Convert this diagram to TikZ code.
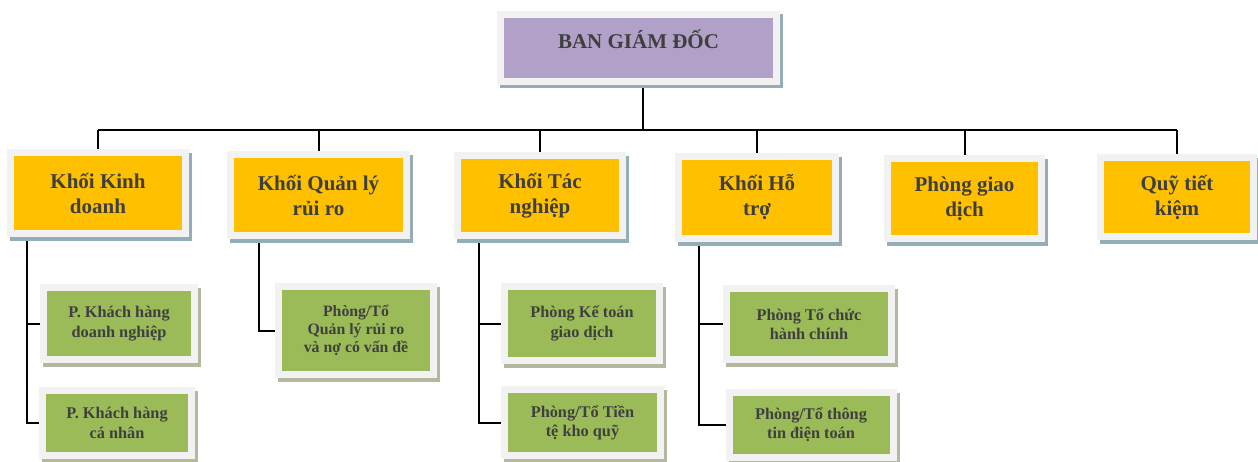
\documentclass[tikz,border=0pt]{standalone}
\usepackage{fontspec}
\setmainfont{Liberation Serif}
\usetikzlibrary{backgrounds}
\definecolor{frameg}{HTML}{F2F2F2}
\definecolor{purp}{HTML}{B1A0C7}
\definecolor{yel}{HTML}{FFC000}
\definecolor{grn}{HTML}{9BBB59}
\definecolor{shadb}{HTML}{93AEB7}
\definecolor{shadg}{HTML}{B3B89E}
\definecolor{txt}{HTML}{3F3F3F}
\tikzset{
  basebox/.style={draw=frameg, line width=7pt, inner sep=0pt, align=center,
    text=txt},
  topbox/.style={basebox, fill=purp,
    preaction={draw=shadb, fill=shadb, line width=7pt, transform canvas={xshift=3pt,yshift=-3pt}},
    font=\fontsize{21}{25}\selectfont\bfseries},
  unitbox/.style={basebox, fill=yel,
    preaction={draw=shadb, fill=shadb, line width=7pt, transform canvas={xshift=3pt,yshift=-4pt}},
    font=\fontsize{21}{25}\selectfont\bfseries},
  subbox/.style={basebox, fill=grn,
    preaction={draw=shadg, fill=shadg, line width=7pt, transform canvas={xshift=3pt,yshift=-4pt}},
    font=\fontsize{16.3}{19.3}\selectfont\bfseries},
  sub3box/.style={subbox, font=\fontsize{15.8}{17.8}\selectfont\bfseries},
  link/.style={draw=black, line width=2pt}
}
\begin{document}
\begin{tikzpicture}[x=1pt,y=-1pt]
\useasboundingbox (0,0) rectangle (1258,461);
% top
\node[topbox, minimum width=276pt, minimum height=67pt, text height=0pt, text depth=0pt] (top) at (638.5,48) {BAN GIÁM ĐỐC};
% units
\node[unitbox, minimum width=175pt, minimum height=81pt] (u1) at (98,193) {Khối Kinh\\doanh};
\node[unitbox, minimum width=176pt, minimum height=81pt] (u2) at (318.5,195) {Khối Quản lý\\rủi ro};
\node[unitbox, minimum width=165pt, minimum height=80pt] (u3) at (540,195.5) {Khối Tác\\nghiệp};
\node[unitbox, minimum width=157pt, minimum height=82pt] (u4) at (757,197.5) {Khối Hỗ\\trợ};
\node[unitbox, minimum width=154pt, minimum height=80pt] (u5) at (964.5,198.5) {Phòng giao\\dịch};
\node[unitbox, minimum width=153pt, minimum height=79pt] (u6) at (1177,197) {Quỹ tiết\\kiệm};
% sub units
\node[subbox, minimum width=151pt, minimum height=72pt] (g1a) at (119,323.5) {P. Khách hàng\\doanh nghiệp};
\node[subbox, minimum width=149pt, minimum height=65pt] (g1b) at (117,423) {P. Khách hàng\\cá nhân};
\node[sub3box, minimum width=155pt, minimum height=88pt] (g2) at (356,330.5) {Phòng/Tổ\\Quản lý rủi ro\\và nợ có vấn đề};
\node[subbox, minimum width=155pt, minimum height=74pt] (g3a) at (582,323.5) {Phòng Kế toán\\giao dịch};
\node[subbox, minimum width=156pt, minimum height=66pt] (g3b) at (582.5,422.5) {Phòng/Tổ Tiền\\tệ kho quỹ};
\node[subbox, minimum width=165pt, minimum height=71pt] (g4a) at (809,324) {Phòng Tổ chức\\hành chính};
\node[subbox, minimum width=164pt, minimum height=65pt] (g4b) at (811,425) {Phòng/Tổ thông\\tin điện toán};
% connector helpers
\coordinate (bus) at (643,130);
\coordinate (s1) at (27,0);
\coordinate (s2) at (259,0);
\coordinate (s3) at (479,0);
\coordinate (s4) at (699,0);
\begin{scope}[on background layer]
\draw[link] (u1 |- bus) -- (u6 |- bus);
\draw[link] (top.south -| bus) -- (bus);
\foreach \n in {u1,u2,u3,u4,u5,u6}{
  \draw[link] (\n |- bus) -- (\n.north);
}
\draw[link] (u1.south -| s1) |- (g1a.west);
\draw[link] (u1.south -| s1) |- (g1b.west);
\draw[link] (u2.south -| s2) |- (g2.west);
\draw[link] (u3.south -| s3) |- (g3a.west);
\draw[link] (u3.south -| s3) |- (g3b.west);
\draw[link] (u4.south -| s4) |- (g4a.west);
\draw[link] (u4.south -| s4) |- (g4b.west);
\end{scope}
\end{tikzpicture}
\end{document}
